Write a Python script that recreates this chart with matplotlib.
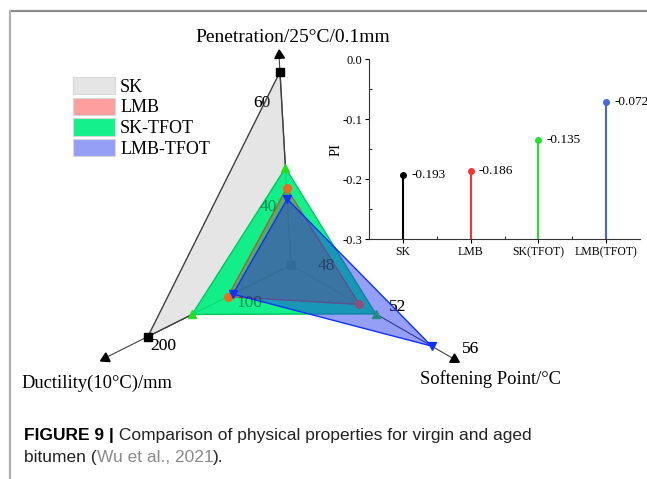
import numpy as np
import matplotlib
matplotlib.use('Agg')
import matplotlib.pyplot as plt
from matplotlib.patches import Polygon, Patch

plt.rcParams['axes.unicode_minus'] = False

# radar data
samples = ['SK', 'LMB', 'SK-TFOT', 'LMB-TFOT']
penetration = [67.2, 44.8, 48.7, 42.7]   # 0.1mm at 25 C
softening = [46.0, 49.8, 50.7, 53.8]     # C
ductility = [215, 123, 164, 117]         # mm at 10 C

axis_names = ['Penetration/25°C/0.1mm', 'Softening Point/°C', 'Ductility(10°C)/mm']
axis_ticks = [[40, 60], [48, 52, 56], [100, 200]]

# inset: penetration index
pi_labels = ['SK', 'LMB', 'SK(TFOT)', 'LMB(TFOT)']
pi_values = [-0.193, -0.186, -0.135, -0.072]

W, H = 647, 479
serif = 'Liberation Serif'

# radar geometry in pixels
center = np.array([291.0, 265.0])
tips = [np.array([279.0, 55.0]), np.array([454.0, 359.0]), np.array([105.0, 358.0])]
vmins = [30, 46, 50]
ppu = [5.2, 20.8, 0.97]
tick_off = [(-20, -6), (-1, -20), (2, 16)]
name_pos = [(293, 37), (490, 379), (97, 383)]
name_size = [14, 13.3, 13.3]

face = {'SK': (0.75, 0.75, 0.75, 0.4),
        'LMB': (1.0, 0.0, 0.0, 0.27),
        'SK-TFOT': (0.0, 0.94, 0.5, 0.92),
        'LMB-TFOT': (0.12, 0.2, 0.92, 0.47)}
edge = {'SK': '#404040', 'LMB': (1, 0, 0, 0.5), 'SK-TFOT': '#00c860', 'LMB-TFOT': '#1030ff'}
mark = {'SK': ('s', 'black'), 'LMB': ('o', '#ee6a1a'),
        'SK-TFOT': ('^', '#20e020'), 'LMB-TFOT': ('v', '#1030ff')}
draw_order = ['SK', 'SK-TFOT', 'LMB', 'LMB-TFOT']


def pos(k, v):
    d = tips[k] - center
    u = d / np.linalg.norm(d)
    return center + u * (v - vmins[k]) * ppu[k]


fig = plt.figure(figsize=(6.47, 4.79), dpi=100)
ax = fig.add_axes([0, 0, 1, 1])
ax.set_xlim(0, W)
ax.set_ylim(H, 0)
ax.axis('off')

# frame
ax.plot([10, W], [10.5, 10.5], color='#8a8a8a', lw=1.6, solid_capstyle='butt')
ax.plot([10, 10], [10, H], color='#b0b0b0', lw=1.6, solid_capstyle='butt')

# axes of the radar
for k in range(3):
    ax.plot([center[0], tips[k][0]], [center[1], tips[k][1]], color='#404040', lw=0.8, zorder=2)
    d = tips[k] - center
    ang = np.degrees(np.arctan2(-d[1], d[0])) - 90
    ax.plot(tips[k][0], tips[k][1], marker=(3, 0, ang), color='black', ms=8, zorder=8)
    for t in axis_ticks[k]:
        p = pos(k, t)
        # black under the fills, faint copy on top so it shows through
        for zz, a in [(1, 1.0), (9, 0.35)]:
            ax.text(p[0] + tick_off[k][0], p[1] + tick_off[k][1], str(t), ha='center', va='center',
                    fontsize=12.5, family=serif, zorder=zz, alpha=a)
    ax.text(name_pos[k][0], name_pos[k][1], axis_names[k], ha='center', va='center',
            fontsize=name_size[k], family=serif)

vals = {s: (penetration[i], softening[i], ductility[i]) for i, s in enumerate(samples)}
for z, s in enumerate(draw_order):
    pts = np.array([pos(k, vals[s][k]) for k in range(3)])
    ax.add_patch(Polygon(pts, closed=True, facecolor=face[s], edgecolor='none', zorder=3 + z))
    ax.add_patch(Polygon(pts, closed=True, facecolor='none', edgecolor=edge[s], lw=1.0, zorder=3 + z))
    m, c = mark[s]
    ax.plot(pts[:, 0], pts[:, 1], m, color=c, ms=5.5, zorder=3 + z, ls='none')

legend_face = dict(face, LMB=(1.0, 0.0, 0.0, 0.38))
handles = [Patch(facecolor=legend_face[s], edgecolor='#d8d8d8', lw=0.8) for s in samples]
fig.legend(handles, samples, loc='upper left', bbox_to_anchor=(73 / W, 1 - 77 / H),
           frameon=False, borderpad=0, borderaxespad=0, handlelength=2.33, handleheight=1.1,
           labelspacing=0.1, handletextpad=0.28, prop={'family': serif, 'size': 13})

# inset with PI
ax2 = fig.add_axes([369 / W, 1 - 239 / H, 271 / W, 180 / H])
x = np.arange(len(pi_labels))
stem_colors = ['#000000', '#ff3030', '#20e030', '#4565e0']
for i in range(len(x)):
    ax2.vlines(x[i], -0.3, pi_values[i], color=stem_colors[i], lw=1.5)
    ax2.plot(x[i], pi_values[i], 'o', color=stem_colors[i], ms=4)
    ax2.text(x[i] + 0.12, pi_values[i], '%.3f' % pi_values[i], va='center', ha='left',
             fontsize=9.5, family=serif)
ax2.set_xlim(-0.5, 3.5)
ax2.set_ylim(-0.3, 0.0)
ax2.set_yticks([0.0, -0.1, -0.2, -0.3])
ax2.set_yticklabels(['0.0', '-0.1', '-0.2', '-0.3'])
ax2.set_yticks([-0.05, -0.15, -0.25], minor=True)
ax2.set_xticks(x)
ax2.set_xticklabels(pi_labels)
ax2.set_xticks([0.5, 1.5, 2.5], minor=True)
for sp in ['top', 'right']:
    ax2.spines[sp].set_visible(False)
for sp in ['left', 'bottom']:
    ax2.spines[sp].set_linewidth(0.8)
    ax2.spines[sp].set_color('#333333')
ax2.tick_params(which='major', length=3, width=0.8, labelsize=8.5, pad=2)
ax2.tick_params(axis='y', which='major', labelsize=9)
ax2.tick_params(which='minor', length=2, width=0.6, direction='in')
for lab in ax2.get_xticklabels() + ax2.get_yticklabels():
    lab.set_family(serif)
ax2.set_ylabel('PI', family=serif, fontsize=10.5)
ax2.yaxis.set_label_coords(-0.096, 0.5)
ax2.patch.set_alpha(0)

# caption
cap = 'Liberation Sans'
fs = 12.5
r = fig.canvas.get_renderer()
t1 = ax.text(24, 440, 'FIGURE 9 |', fontsize=fs, family=cap, weight='bold', va='baseline')
x1 = t1.get_window_extent(r).x1
ax.text(x1, 440, ' Comparison of physical properties for virgin and aged', fontsize=fs,
        family=cap, va='baseline', color='#222222')
t2 = ax.text(24, 462, 'bitumen (', fontsize=fs, family=cap, va='baseline', color='#222222')
x2 = t2.get_window_extent(r).x1
t3 = ax.text(x2, 462, 'Wu et al., 2021', fontsize=fs, family=cap, va='baseline', color='#8a8a8a')
x3 = t3.get_window_extent(r).x1
ax.text(x3, 462, ').', fontsize=fs, family=cap, va='baseline', color='#222222')

fig.savefig('out.png', dpi=100)
